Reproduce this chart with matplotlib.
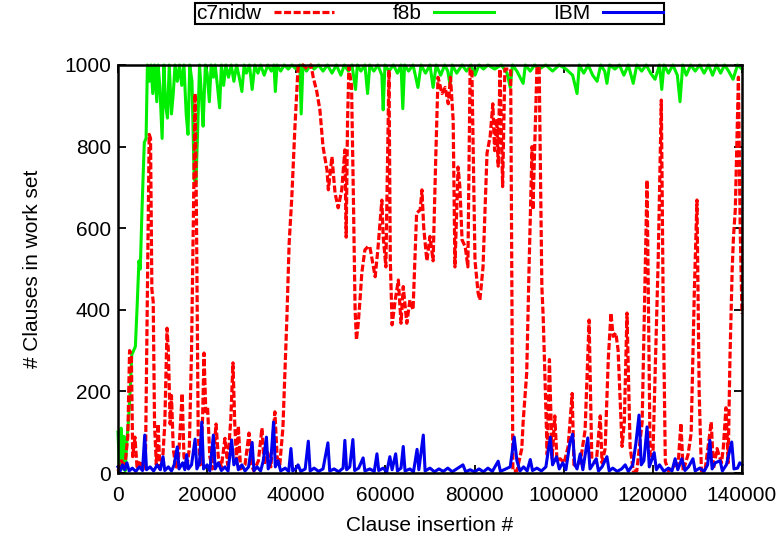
"""Clauses in work set vs. clause insertion, three benchmark traces."""

import matplotlib

matplotlib.use("Agg")
import matplotlib.pyplot as plt
import numpy as np

plt.rcParams["font.family"] = ["Liberation Sans", "DejaVu Sans"]

LABELS = ["c7nidw", "f8b", "IBM"]

# x in thousands of insertions, y = clauses in work set
c7nidw_x = [
    0, 0.8, 1.5, 2.2, 2.6, 3.0, 3.3, 3.8, 4.3, 5.0, 5.6, 6.2, 6.6, 7.0, 7.3, 7.6,
    7.9, 8.2, 8.6, 9.0, 9.4, 10.0, 10.5, 11.0, 11.3, 11.7, 12.0, 12.4, 13.0, 13.6,
    14.4, 14.8, 15.4, 16.0, 16.5, 17.0, 17.3, 17.6, 18.0, 18.5, 19.0, 19.3, 19.7,
    20.1, 20.6, 21.2, 22.0, 22.5, 23.2, 24.0, 24.6, 25.3, 25.8, 26.2, 26.6, 27.0,
    27.5, 28.5, 29.4, 29.9, 30.5, 31.5, 32.3, 32.8, 33.6, 34.3, 35.2, 35.7, 36.3,
    37.0, 37.9, 38.4, 39.0, 39.7, 40.4, 41.5, 42.5, 43.3, 43.8, 44.6, 45.3, 46.0,
    46.9, 47.2, 48.0, 48.7, 49.4, 50.2, 50.9, 51.2, 51.5, 51.8, 52.4, 52.8, 53.2,
    53.5, 53.9, 54.3, 54.7, 55.4, 56.1, 56.5, 57.7, 58.3, 59.2, 59.5, 60.1, 60.8,
    61.1, 61.5, 62.2, 62.9, 63.5, 64.0, 64.8, 65.5, 66.2, 67.0, 67.8, 68.2, 68.6,
    69.3, 70.0, 70.7, 71.3, 71.8, 72.7, 73.4, 74.1, 74.6, 75.2, 75.6, 76.3, 76.7,
    77.2, 77.9, 78.5, 79.0, 79.4, 80.1, 80.8, 81.2, 81.9, 82.8, 83.5, 84.1, 84.5,
    85.0, 85.3, 85.7, 86.3, 86.8, 87.2, 88.1, 88.6, 89.5, 90.6, 90.9, 91.7, 92.2,
    92.9, 93.1, 94.0, 94.5, 95.1, 95.4, 96.3, 96.8, 97.4, 98.0, 98.5, 99.2, 100.1,
    101.0, 101.9, 102.3, 103.7, 104.8, 105.7, 106.3, 107.3, 108.2, 108.6, 109.3,
    110.0, 110.6, 111.1, 111.7, 112.2, 113.1, 113.6, 114.2, 114.9, 115.6, 116.4,
    117.6, 118.7, 119.4, 120.0, 121.2, 121.9, 122.3, 122.8, 123.5, 124.5, 125.7,
    126.3, 126.8, 127.9, 128.6, 129.3, 129.9, 130.4, 130.9, 131.7, 133.1, 133.6,
    134.4, 135.4, 135.8, 136.4, 136.9, 137.3, 137.8, 138.1, 138.5, 138.9, 139.2,
    139.6, 140.0,
]
c7nidw_y = [
    5, 30, 10, 90, 300, 290, 40, 88, 10, 30, 5, 60, 450, 830, 820, 450,
    420, 120, 20, 120, 10, 30, 120, 355, 300, 120, 190, 60, 10, 40,
    195, 40, 10, 60, 300, 700, 930, 640, 90, 20, 140, 294, 150,
    160, 40, 10, 120, 40, 15, 85, 20, 130, 270, 120, 30, 115,
    10, 20, 98, 20, 5, 30, 110, 20, 50, 15, 150, 40, 20,
    110, 382, 563, 676, 848, 995, 1000, 990, 1000, 970, 935, 890, 800,
    742, 694, 775, 686, 650, 694, 792, 578, 860, 995, 950, 686, 400,
    326, 367, 424, 490, 547, 555, 555, 481, 547, 669, 580, 505, 988,
    520, 363, 424, 473, 367, 457, 367, 424, 400, 637, 645, 694, 600,
    520, 580, 520, 775, 970, 930, 945, 905, 970, 865, 505, 750, 702,
    571, 555, 505, 990, 990, 520, 441, 424, 505, 784, 825, 905, 790,
    868, 752, 990, 702, 990, 990, 990, 5, 5, 60, 125, 245, 490,
    800, 645, 995, 995, 457, 382, 45, 278, 35, 140, 30, 35, 25,
    65, 195, 20, 25, 105, 375, 35, 25, 140, 25, 60,
    278, 392, 335, 343, 302, 65, 125, 392, 65, 5, 5,
    125, 718, 35, 35, 522, 914, 441, 28, 5, 15, 25,
    122, 5, 45, 98, 441, 669, 195, 5, 5, 125, 10,
    60, 25, 60, 160, 25, 280, 498, 580, 645, 825, 970,
    600, 390,
]

f8b_x = [
    0, 0.3, 0.7, 1.0, 1.3, 1.6, 2.0, 2.3, 2.7, 3.1, 3.5, 3.9, 4.3, 4.7, 5.0, 5.4,
    5.9, 6.3, 6.6, 7.0, 7.4, 7.8, 8.2, 8.7, 9.0, 9.4, 9.9, 10.3, 10.7, 11.1, 11.5,
    12.0, 12.4, 12.8, 13.3, 13.8, 14.3, 14.8, 15.3, 15.7, 16.1, 16.6, 17.1, 17.5,
    17.9, 18.3, 18.7, 19.1, 19.6, 20.0, 20.5, 20.9, 21.4, 21.8, 22.3, 22.8, 23.2,
    23.7, 24.2, 24.8, 25.4, 26.0, 26.6, 27.2, 27.8, 28.3, 28.8, 29.5, 30.1, 30.7,
    31.4, 32.0, 32.8, 33.6, 34.4, 35.0, 35.3, 35.7, 36.5, 37.3, 38.2, 39.0, 40.0,
    40.8, 41.1, 41.5, 42.3, 43.2, 44.0, 45.0, 46.0, 47.0, 48.0, 49.0, 50.0, 50.8,
    51.7, 52.5, 53.3, 53.7, 54.5, 55.4, 56.0, 56.5, 57.4, 58.3, 59.2, 59.5, 59.9,
    60.8, 61.8, 62.7, 63.5, 63.9, 64.3, 65.2, 66.2, 67.3, 68.0, 69.0, 70.0, 70.7,
    71.4, 72.4, 73.3, 74.0, 74.5, 75.0, 76.0, 77.2, 78.2, 79.2, 80.1, 81.0, 82.0,
    83.0, 84.5, 86.0, 87.3, 88.0, 88.5, 89.5, 90.9, 91.4, 92.5, 93.5, 94.5, 96.0,
    97.5, 99.0, 100.5, 102.0, 103.0, 103.5, 104.5, 105.5, 106.5, 107.5, 108.3,
    109.2, 109.7, 110.3, 111.5, 112.5, 113.5, 114.5, 115.6, 116.4, 117.5, 118.5,
    119.5, 120.5, 121.5, 122.0, 122.5, 123.5, 124.5, 125.5, 126.1, 126.7, 127.5,
    128.5, 129.5, 130.5, 131.5, 132.5, 133.4, 134.3, 135.2, 136.1, 137.0, 138.0,
    139.0, 140.0,
]
f8b_y = [
    100, 20, 110, 10, 90, 5, 80, 120, 195, 290, 300, 310, 410, 520, 500, 650,
    810, 820, 1000, 960, 1000, 930, 1000, 910, 1000, 945, 820, 1000, 900, 870, 1000,
    880, 930, 1000, 960, 1000, 950, 1000, 880, 830, 1000, 960, 720, 710,
    850, 1000, 930, 850, 1000, 980, 910, 1000, 970, 1000, 950, 895, 1000,
    950, 1000, 970, 1000, 960, 1000, 970, 935, 1000, 980, 1000, 940, 1000,
    980, 1000, 975, 1000, 985, 1000, 935, 1000, 985, 1000, 990, 1000, 990,
    1000, 880, 1000, 985, 1000, 990, 1000, 985, 1000, 980, 1000, 975, 1000,
    985, 1000, 940, 1000, 985, 1000, 930, 1000, 985, 1000, 975, 890, 1000,
    985, 1000, 980, 1000, 893, 1000, 985, 1000, 945, 1000, 980, 1000, 945,
    1000, 975, 1000, 985, 950, 1000, 980, 1000, 985, 1000, 975, 1000, 990,
    1000, 990, 1000, 980, 945, 1000, 985, 955, 1000, 985, 1000, 990, 1000,
    985, 1000, 990, 975, 930, 1000, 980, 1000, 975, 960, 1000,
    985, 955, 1000, 990, 1000, 975, 1000, 955, 1000, 985, 1000,
    980, 965, 1000, 940, 1000, 980, 1000, 975, 910, 1000, 975,
    1000, 985, 1000, 980, 1000, 975, 1000, 980, 1000, 985, 965,
    1000, 990,
]

ibm_x = [
    0, 0.5, 1.0, 1.5, 2.0, 2.5, 3.2, 4.0, 4.8, 5.5, 6.0, 6.4, 7.2, 8.0, 8.8, 9.5,
    10.1, 10.5, 11.3, 12.0, 12.6, 13.3, 13.7, 14.5, 15.0, 15.4, 15.8, 16.5, 17.3,
    17.7, 18.3, 18.8, 19.2, 20.0, 20.6, 21.4, 21.8, 22.5, 23.2, 24.0, 24.7, 25.5,
    26.0, 26.6, 27.0, 27.8, 28.5, 29.3, 30.1, 30.5, 31.2, 32.0, 32.6, 33.3, 33.7,
    34.3, 34.9, 35.3, 35.9, 36.5, 37.5, 38.3, 38.8, 39.2, 40.0, 40.4, 41.0, 42.0,
    42.7, 43.1, 44.0, 45.0, 46.0, 47.1, 47.5, 48.5, 49.5, 50.5, 50.9, 51.3, 52.0,
    52.7, 53.1, 54.0, 55.0, 55.4, 56.5, 57.5, 58.1, 58.5, 59.5, 60.3, 61.0, 61.5,
    62.3, 62.7, 63.5, 64.0, 64.4, 65.5, 66.3, 67.1, 67.5, 68.5, 68.9, 70.0, 71.0,
    72.0, 73.0, 74.0, 75.0, 76.0, 77.4, 78.0, 79.0, 80.0, 81.0, 82.0, 83.0, 84.0,
    85.3, 85.8, 87.0, 88.0, 88.9, 89.5, 90.2, 91.0, 91.8, 92.5, 93.0, 94.0, 95.0,
    96.0, 97.0, 97.5, 98.4, 99.0, 99.8, 100.5, 101.4, 102.0, 102.5, 103.0, 103.7,
    104.3, 105.4, 105.9, 106.5, 107.3, 107.8, 108.6, 109.7, 110.2, 111.0, 112.0,
    113.0, 113.8, 114.5, 115.5, 116.2, 116.9, 117.4, 118.0, 118.7, 119.2, 120.3,
    120.8, 121.5, 122.5, 123.5, 124.3, 125.0, 125.6, 126.5, 127.2, 128.0, 129.0,
    129.5, 130.5, 131.5, 132.3, 132.8, 133.3, 134.0, 135.1, 135.6, 136.5, 137.7,
    138.2, 139.0, 139.5, 140.0,
]
ibm_y = [
    15, 5, 20, 8, 25, 5, 12, 4, 15, 6, 93, 8, 15, 5, 20, 8,
    40, 6, 15, 5, 20, 64, 10, 25, 8, 45, 10, 20, 83,
    10, 25, 125, 10, 20, 5, 93, 10, 25, 6, 15, 5, 81,
    20, 35, 8, 20, 5, 15, 75, 6, 15, 5, 30, 88, 10,
    30, 125, 15, 30, 5, 12, 4, 60, 5, 12, 20, 4, 10,
    78, 5, 12, 4, 10, 74, 5, 10, 3, 12, 80, 8, 15,
    82, 6, 12, 37, 5, 10, 4, 47, 6, 12, 3, 40, 8,
    47, 5, 12, 65, 5, 10, 3, 58, 8, 93, 5, 12, 3,
    10, 4, 12, 3, 10, 20, 3, 8, 3, 10, 3, 12, 4,
    29, 4, 10, 15, 88, 30, 5, 15, 5, 33, 6, 12, 5,
    15, 88, 20, 40, 10, 25, 8, 75, 95, 20, 10, 47,
    8, 86, 10, 20, 35, 5, 15, 40, 5, 12, 4,
    10, 20, 4, 20, 73, 142, 20, 30, 113, 15, 50,
    8, 20, 4, 12, 5, 35, 8, 35, 6, 15, 35,
    5, 12, 4, 20, 80, 10, 25, 30, 5, 20, 76,
    10, 12, 25, 20,
]

X_TICKS = [0, 20000, 40000, 60000, 80000, 100000, 120000, 140000]
Y_TICKS = [0, 200, 400, 600, 800, 1000]

fig = plt.figure(figsize=(7.84, 5.43), dpi=100)
ax = fig.add_axes([0.1505, 0.1289, 0.7959, 0.7514])

ax.plot(np.array(f8b_x) * 1000, f8b_y, color="#00ee00", lw=2.2,
        label=LABELS[1], zorder=2, clip_on=False)
ax.plot(np.array(c7nidw_x) * 1000, c7nidw_y, color="#ff0000", lw=2.3,
        linestyle=(0, (2.2, 0.8)), label=LABELS[0], zorder=3, clip_on=False)
ax.plot(np.array(ibm_x) * 1000, ibm_y, color="#0000ee", lw=2.2,
        label=LABELS[2], zorder=4, clip_on=False)

ax.set_xlim(0, 140000)
ax.set_ylim(0, 1000)
ax.set_xticks(X_TICKS)
ax.set_yticks(Y_TICKS)
ax.tick_params(direction="in", length=6, width=1.3, top=True, right=True,
               labelsize=15)
ax.tick_params(axis="x", pad=9)
ax.tick_params(axis="y", pad=5)
for sp in ax.spines.values():
    sp.set_linewidth(1.8)
    sp.set_zorder(5)

ax.set_xlabel("Clause insertion #", fontsize=15, labelpad=8)
ax.set_ylabel("# Clauses in work set", fontsize=15, labelpad=16)

handles, labels = ax.get_legend_handles_labels()
order = [1, 0, 2]
leg = fig.legend([handles[i] for i in order], [labels[i] for i in order],
                 loc="upper center", bbox_to_anchor=(0.548, 0.994), ncol=3,
                 markerfirst=False, fontsize=15, frameon=True, fancybox=False,
                 edgecolor="black", framealpha=1, borderpad=0.05,
                 handlelength=2.9, handletextpad=0.6, columnspacing=2.8,
                 borderaxespad=0)
leg.get_frame().set_linewidth(1.5)

fig.savefig("out.png", dpi=100)
